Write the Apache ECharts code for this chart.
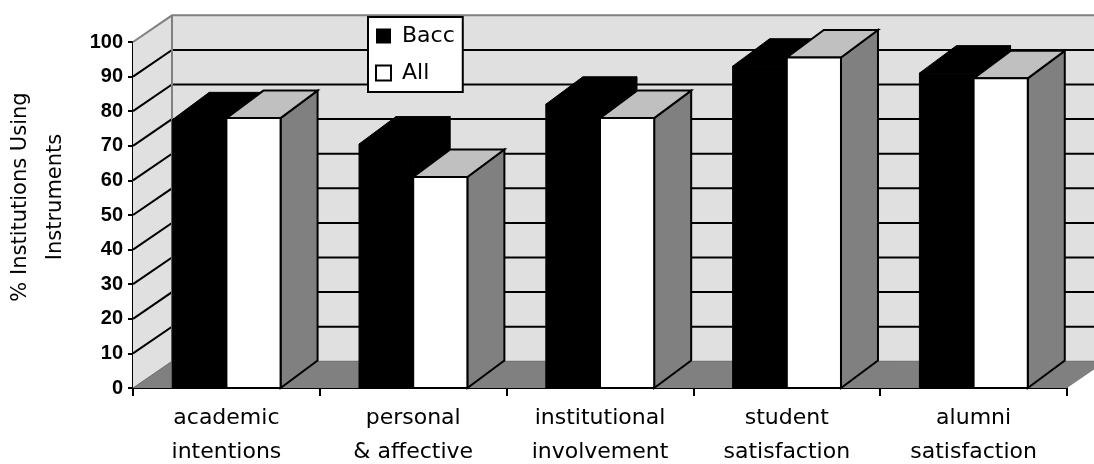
<!DOCTYPE html>
<html>
<head>
<meta charset="utf-8">
<script src="https://cdn.jsdelivr.net/npm/echarts@6/dist/echarts.min.js"></script>
<style>
  html, body { margin: 0; padding: 0; background: #fff; }
  #chart { width: 1094px; height: 464px; }
</style>
</head>
<body>
<div id="chart"></div>
<script>
// ---- data ----
const categories = [
  'academic\nintentions',
  'personal\n& affective',
  'institutional\ninvolvement',
  'student\nsatisfaction',
  'alumni\nsatisfaction'
];
const seriesNames = ['Bacc', 'All'];
const baccValues = [77.5, 70.5, 82, 93, 91];
const allValues  = [78, 61, 78, 95.5, 89.5];
const yTicks = [0, 10, 20, 30, 40, 50, 60, 70, 80, 90, 100];
const yAxisTitle = '% Institutions Using\nInstruments';

// ---- style constants ----
const WALL_D = [39, 26.7];   // depth offset of walls / floor
const BAR_D = [37, 27.5];    // depth offset of bars
const BAR_FRAC = 0.29;       // bar width as fraction of category band
const WALL_C = '#e0e0e0';
const FLOOR_C = '#808080';
const EDGE_C = '#808080';
const TOP_C = '#c0c0c0';
const SIDE_C = '#808080';
const FONT = 'DejaVu Sans';

const yMin = yTicks[0], yMax = yTicks[yTicks.length - 1];

function renderFrame(params, api) {
  const cs = params.coordSys;
  const x0 = cs.x, x1 = cs.x + cs.width;
  const yb = api.coord([0, yMin])[1];
  const yt = api.coord([0, yMax])[1];
  const dx = WALL_D[0], dy = WALL_D[1];
  const ch = [];
  ch.push({ type: 'polygon', shape: { points: [[x0, yb], [x0 + dx, yb - dy], [x0 + dx, yt - dy], [x0, yt]] },
            style: { fill: WALL_C } });
  ch.push({ type: 'rect', shape: { x: x0 + dx, y: yt - dy, width: x1 - x0, height: yb - yt },
            style: { fill: WALL_C } });
  ch.push({ type: 'polygon', shape: { points: [[x0, yb], [x1, yb], [x1 + dx, yb - dy], [x0 + dx, yb - dy]] },
            style: { fill: FLOOR_C } });
  yTicks.forEach(function (v) {
    if (v === yMin || v === yMax) return;
    const y = api.coord([0, v])[1];
    ch.push({ type: 'polyline', shape: { points: [[x0, y], [x0 + dx, y - dy], [x1 + dx, y - dy]] },
              style: { stroke: '#000', lineWidth: 2, fill: null } });
  });
  // wall edges
  ch.push({ type: 'polyline', shape: { points: [[x0, yt], [x0 + dx, yt - dy], [x1 + dx, yt - dy]] },
            style: { stroke: EDGE_C, lineWidth: 2, fill: null } });
  ch.push({ type: 'line', shape: { x1: x0 + dx, y1: yt - dy, x2: x0 + dx, y2: yb - dy },
            style: { stroke: EDGE_C, lineWidth: 2 } });
  ch.push({ type: 'polyline', shape: { points: [[x0, yb], [x0 + dx, yb - dy], [x1 + dx, yb - dy]] },
            style: { stroke: '#6a6a6a', lineWidth: 1, fill: null } });
  return { type: 'group', children: ch };
}

function makeBarRenderer(side, colors) {
  return function (params, api) {
    const i = api.value(0), v = api.value(1);
    const top = api.coord([i, v]);
    const base = api.coord([i, yMin]);
    const band = api.size([1, 0])[0];
    const bw = band * BAR_FRAC;
    const xa = side === 0 ? top[0] - bw : top[0];
    const xb = xa + bw;
    const yT = top[1], yB = base[1];
    const dx = BAR_D[0], dy = BAR_D[1];
    const st = { stroke: colors.stroke, lineWidth: colors.lw, lineJoin: 'miter' };
    return {
      type: 'group',
      children: [
        { type: 'polygon', shape: { points: [[xb, yT], [xb + dx, yT - dy], [xb + dx, yB - dy], [xb, yB]] },
          style: Object.assign({ fill: colors.side }, st) },
        { type: 'polygon', shape: { points: [[xa, yT], [xb, yT], [xb + dx, yT - dy], [xa + dx, yT - dy]] },
          style: Object.assign({ fill: colors.top }, st) },
        { type: 'rect', shape: { x: xa, y: yT, width: bw, height: yB - yT },
          style: Object.assign({ fill: colors.front }, st) }
      ]
    };
  };
}

const chart = echarts.init(document.getElementById('chart'), null, { renderer: 'canvas' });
chart.setOption({
  animation: false,
  backgroundColor: '#fff',
  grid: { left: 133, right: 27, top: 42, bottom: 76, containLabel: false, outerBoundsMode: 'none' },
  legend: {
    orient: 'vertical',
    left: 368, top: 17,
    padding: [8, 8, 8, 7],
    itemGap: 15,
    itemWidth: 15, itemHeight: 15,
    backgroundColor: '#fff',
    borderColor: '#000', borderWidth: 2, borderRadius: 0,
    textStyle: { fontFamily: FONT, fontSize: 22, color: '#000', padding: [0, 0, 0, 6] },
    data: [
      { name: seriesNames[0], icon: 'rect', itemStyle: { color: '#000', borderColor: '#000', borderWidth: 0 } },
      { name: seriesNames[1], icon: 'rect', itemStyle: { color: '#fff', borderColor: '#000', borderWidth: 2 } }
    ]
  },
  xAxis: {
    type: 'category',
    data: categories,
    boundaryGap: true,
    axisLine: { show: true, lineStyle: { color: '#000', width: 2 } },
    axisTick: { show: true, alignWithLabel: false, length: 8, lineStyle: { color: '#000', width: 2 } },
    axisLabel: { interval: 0, margin: 13, fontFamily: FONT, fontSize: 22, lineHeight: 34, color: '#000' },
    splitLine: { show: false }
  },
  yAxis: {
    type: 'value',
    min: yMin, max: yMax, interval: 10,
    name: yAxisTitle,
    nameLocation: 'middle',
    nameRotate: 90,
    nameGap: 60,
    nameTextStyle: { fontFamily: FONT, fontSize: 21, lineHeight: 35, color: '#000', padding: [0, 0, 0, 36] },
    axisLine: { show: true, lineStyle: { color: '#000', width: 2 } },
    axisTick: { show: true, length: 5, lineStyle: { color: '#000', width: 2 } },
    axisLabel: { margin: 10, fontFamily: 'Liberation Sans', fontWeight: 'bold', fontSize: 20, color: '#000' },
    splitLine: { show: false }
  },
  series: [
    { type: 'custom', name: '_frame', renderItem: renderFrame, data: [[0, 0]], silent: true, z: 1 },
    { type: 'custom', name: seriesNames[0], z: 2,
      itemStyle: { color: '#000' },
      renderItem: makeBarRenderer(0, { front: '#000', top: '#000', side: '#000', stroke: '#000', lw: 1 }),
      data: baccValues.map(function (v, i) { return [i, v]; }) },
    { type: 'custom', name: seriesNames[1], z: 3,
      itemStyle: { color: '#fff', borderColor: '#000', borderWidth: 2 },
      renderItem: makeBarRenderer(1, { front: '#fff', top: TOP_C, side: SIDE_C, stroke: '#000', lw: 2 }),
      data: allValues.map(function (v, i) { return [i, v]; }) }
  ]
});
</script>
</body>
</html>
